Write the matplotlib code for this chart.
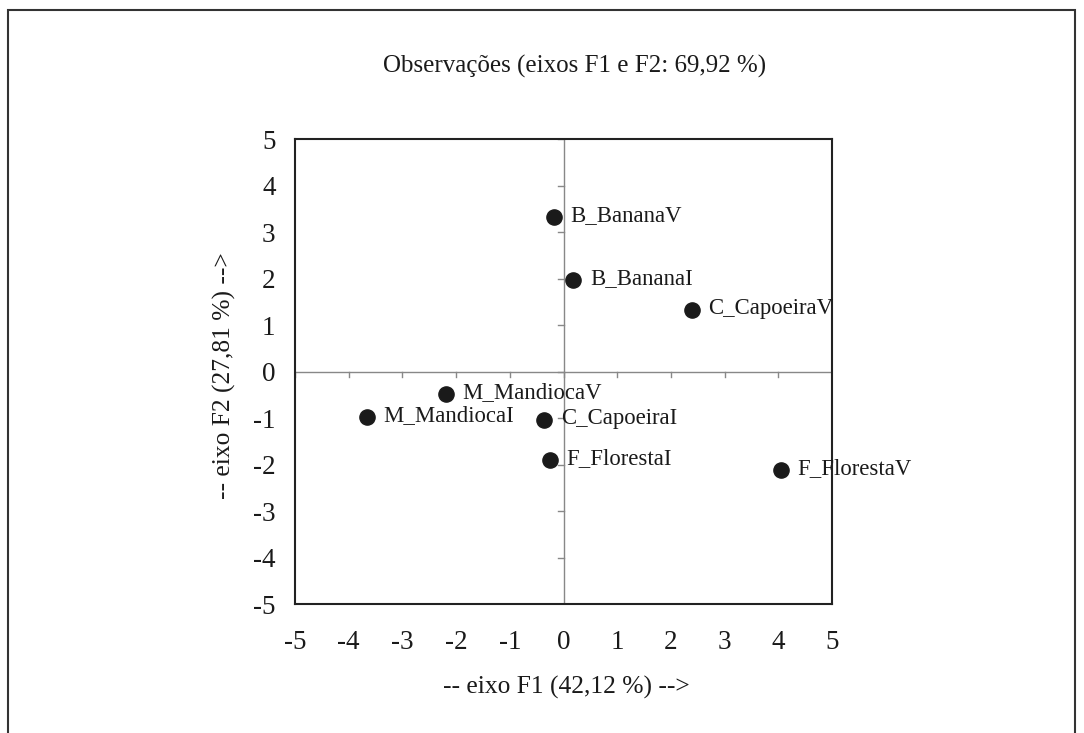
import numpy as np
import matplotlib.pyplot as plt
from matplotlib.patches import Rectangle

plt.rcParams['font.family'] = ['Liberation Serif', 'DejaVu Serif']

# observation scores on the first two factors
labels = ["B_BananaV", "B_BananaI", "C_CapoeiraV", "M_MandiocaV",
          "M_MandiocaI", "C_CapoeiraI", "F_FlorestaI", "F_FlorestaV"]
f1 = [-0.18, 0.18, 2.39, -2.19, -3.66, -0.36, -0.25, 4.05]
f2 = [3.32, 1.97, 1.32, -0.48, -0.98, -1.04, -1.90, -2.12]
ticks = list(range(-5, 6))
tick_labels = [str(t) for t in ticks]  # plain hyphen, not unicode minus

fig = plt.figure(figsize=(10.84, 7.33), dpi=100)
ax = fig.add_axes([295 / 1084, 1 - 604 / 733, 537 / 1084, 465 / 733])

# outer frame around the whole chart (bottom edge is cut off)
fig.patches.append(Rectangle((8 / 1084, -0.05), 1067 / 1084, 1.05 - 10 / 733,
                             transform=fig.transFigure, fill=False,
                             edgecolor="#333333", linewidth=1.5))

ax.set_xlim(-5, 5)
ax.set_ylim(-5, 5)
for sp in ax.spines.values():
    sp.set_color("#222222")
    sp.set_linewidth(1.5)

# zero lines with small tick marks
ax.axhline(0, color="#888888", lw=1, zorder=1)
ax.axvline(0, color="#888888", lw=1, zorder=1)
for t in ticks:
    ax.plot([t, t], [0, -0.12], color="#888888", lw=1, zorder=1)
    ax.plot([0, -0.11], [t, t], color="#888888", lw=1, zorder=1)

ax.scatter(f1, f2, s=120, color="#1a1a1a", zorder=3)
for x, y, name in zip(f1, f2, labels):
    ax.annotate(name, (x, y), xytext=(12, 1), textcoords="offset points",
                fontsize=16.4, va="center", color="#1a1a1a")

ax.set_xticks(ticks, tick_labels)
ax.set_yticks(ticks, tick_labels)
ax.tick_params(length=0, labelsize=19.5, colors="#1a1a1a")
ax.tick_params(axis="x", pad=19)
ax.tick_params(axis="y", pad=14)

ax.set_xlabel("-- eixo F1 (42,12 %) -->", fontsize=18.4, color="#1a1a1a")
ax.set_ylabel("-- eixo F2 (27,81 %) -->", fontsize=18.4, color="#1a1a1a")
ax.xaxis.set_label_coords(0.505, -0.155)
ax.yaxis.set_label_coords(-0.110, 0.492)
fig.text(575 / 1084, 1 - 66 / 733, "Observações (eixos F1 e F2: 69,92 %)",
         ha="center", va="center", fontsize=18, color="#1a1a1a")

fig.savefig("out.png", dpi=100, facecolor="white")
